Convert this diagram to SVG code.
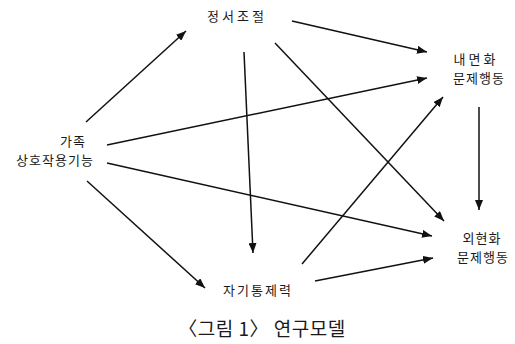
<svg xmlns="http://www.w3.org/2000/svg" width="515" height="344" viewBox="0 0 515 344">
<style>
.t{font-family:"Noto Sans CJK KR","Noto Sans",sans-serif;font-size:13px;fill:#1a1a1a;text-anchor:middle;dominant-baseline:central;letter-spacing:1px}
.c{font-family:"Noto Sans CJK KR","Noto Sans",sans-serif;font-size:19px;fill:#1a1a1a;text-anchor:middle;dominant-baseline:central}
.e{stroke:#111;stroke-width:1.5;fill:none;marker-end:url(#ah)}
</style>
<defs>
<marker id="ah" viewBox="0 0 10 8" refX="10" refY="4" markerWidth="10" markerHeight="8" markerUnits="userSpaceOnUse" orient="auto">
<path d="M0,0 L10,4 L0,8 Z" fill="#111"/>
</marker>
</defs>
<rect width="515" height="344" fill="#fff"/>
<g id="connectors">
<line class="e" x1="86" y1="122" x2="186" y2="31"/>
<line class="e" x1="292" y1="21" x2="427" y2="52"/>
<line class="e" x1="244" y1="52" x2="253" y2="253"/>
<line class="e" x1="275" y1="43" x2="444" y2="221"/>
<line class="e" x1="107" y1="145" x2="427" y2="78"/>
<line class="e" x1="107" y1="163" x2="432" y2="236"/>
<line class="e" x1="87" y1="181" x2="205" y2="288"/>
<line class="e" x1="302" y1="264" x2="443" y2="97"/>
<line class="e" x1="315" y1="281" x2="433" y2="258"/>
<line class="e" x1="479" y1="107" x2="479" y2="210"/>
</g>
<g id="n-emotion"><text class="t" x="237" y="15" style="letter-spacing:3px">정서조절</text></g>
<g id="n-internal"><text class="t" x="476" y="58" style="letter-spacing:3px">내면화</text><text class="t" x="479" y="77">문제행동</text></g>
<g id="n-family"><text class="t" x="73" y="140">가족</text><text class="t" x="55" y="159">상호작용기능</text></g>
<g id="n-external"><text class="t" x="482" y="237">외현화</text><text class="t" x="483" y="256">문제행동</text></g>
<g id="n-self"><text class="t" x="258" y="289" style="letter-spacing:2px">자기통제력</text></g>
<g id="caption"><text class="c" x="262" y="327" style="letter-spacing:0.5px">〈그림 1〉 연구모델</text></g>
</svg>
